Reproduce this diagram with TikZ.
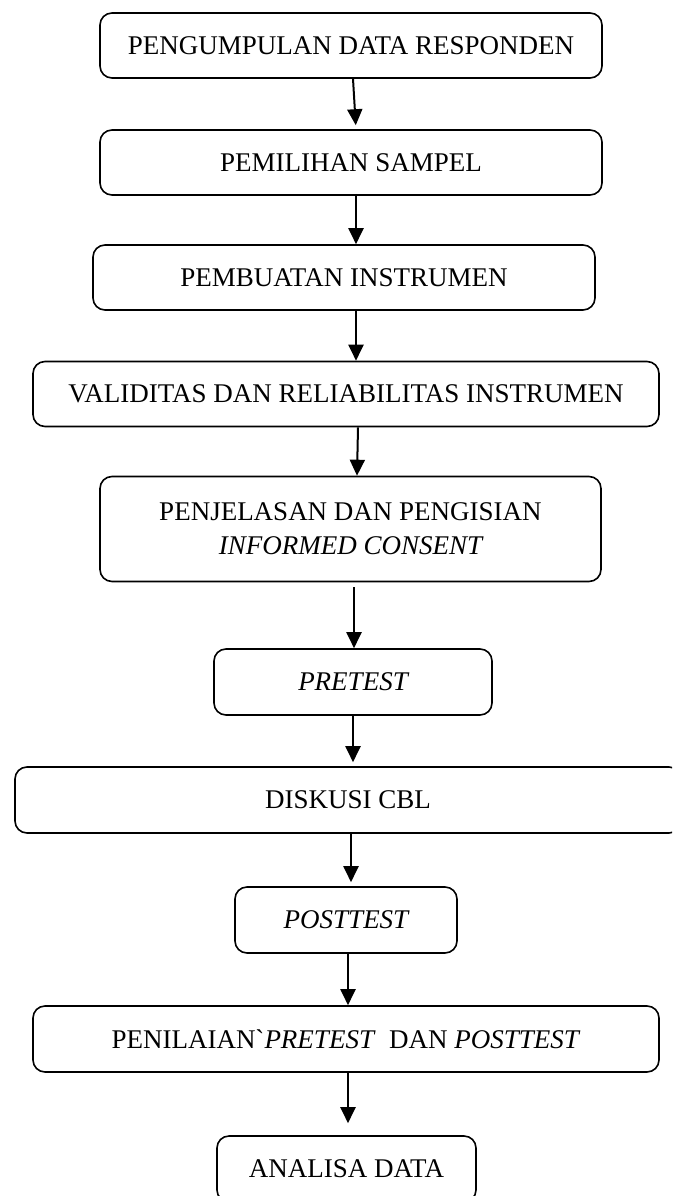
\documentclass[tikz,border=0pt]{standalone}
\usepackage{fontspec}
\newfontfamily\tnr{Liberation Serif}
\usetikzlibrary{arrows.meta}
\begin{document}
\begin{tikzpicture}[x=1pt,y=-1pt,
  stepbox/.style={draw=black, line width=1.6pt, rounded corners=12pt, rectangle,
    inner sep=0pt, align=center, font=\tnr\fontsize{27}{34}\selectfont},
  arr/.style={line width=2pt, -{Triangle[width=15pt,length=16pt]}}]
\useasboundingbox (0,0) rectangle (672,1196);
\clip (0,0) rectangle (672,1196);
\fill[white] (0,0) rectangle (672,1196);
\node[stepbox, minimum width=502pt, minimum height=65pt] (b1) at (351,45.5) {PENGUMPULAN DATA RESPONDEN};
\node[stepbox, minimum width=502pt, minimum height=65pt] (b2) at (351,162.5) {PEMILIHAN SAMPEL};
\node[stepbox, minimum width=502pt, minimum height=65pt] (b3) at (344,277.5) {PEMBUATAN INSTRUMEN};
\node[stepbox, minimum width=626pt, minimum height=65pt] (b4) at (346,394) {VALIDITAS DAN RELIABILITAS INSTRUMEN};
\node[stepbox, minimum width=501pt, minimum height=105pt] (b5) at (350.5,529) {PENJELASAN DAN PENGISIAN\\\itshape INFORMED CONSENT};
\node[stepbox, minimum width=278pt, minimum height=66pt] (b6) at (353,682) {\itshape PRETEST};
\node[stepbox, minimum width=666pt, minimum height=66pt] (b7) at (348,800) {DISKUSI CBL};
\node[stepbox, minimum width=222pt, minimum height=66pt] (b8) at (346,920) {\itshape POSTTEST};
\node[stepbox, minimum width=626pt, minimum height=66pt] (b9) at (346,1039) {PENILAIAN`\textit{PRETEST}\ \ DAN \textit{POSTTEST}};
\node[stepbox, minimum width=259pt, minimum height=66pt] (b10) at (346.5,1169) {ANALISA DATA};
\draw[arr, shorten >=4pt] (b1.south -| 353,0) -- (b2.north -| 356,0);
\draw[arr] ([yshift=2pt]b2.south -| 356,0) -- (b3.north -| 356,0);
\draw[arr] (b3.south -| 356,0) -- (b4.north -| 356,0);
\draw[arr] (b4.south -| 358,0) -- (b5.north -| 357,0);
\draw[arr, shorten <=5pt] (b5.south -| 354,0) -- (b6.north -| 354,0);
\draw[arr, shorten >=4pt] (b6.south -| 353,0) -- (b7.north -| 353,0);
\draw[arr, shorten >=4pt] (b7.south -| 351,0) -- (b8.north -| 351,0);
\draw[arr] (b8.south -| 348,0) -- (b9.north -| 348,0);
\draw[arr, shorten >=12pt] (b9.south -| 348,0) -- (b10.north -| 348,0);
\end{tikzpicture}
\end{document}
